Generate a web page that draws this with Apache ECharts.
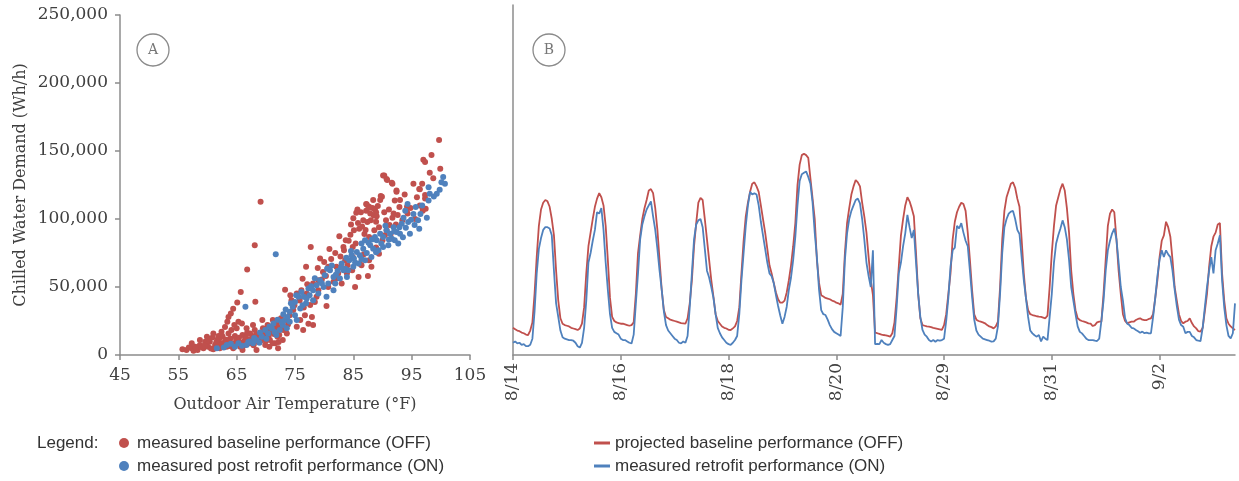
<!DOCTYPE html>
<html>
<head>
<meta charset="utf-8">
<title>Chilled water demand</title>
<script src="https://cdn.jsdelivr.net/npm/echarts@6/dist/echarts.min.js"></script>
<style>
  html, body { margin: 0; padding: 0; background: #ffffff; }
  #chart { width: 1239px; height: 481px; }
</style>
</head>
<body>
<div id="chart"></div>
<script>
// ---- Panel A: hourly demand vs outdoor air temperature [degF, Wh/h] ----
const baselineScatter = [
  [69.1,112700],[68.1,80700],[66.8,62800],[65.7,46400],[65.1,38600],[68.2,39100],[64.0,30500],[63.4,24400],[63.6,28000],[64.4,34000],
  [77.7,79400],[76.9,64800],[73.3,48000],[80.4,36000],[77.3,23000],[72.1,4900],
  [90.1,132000],[90.7,129500],[91.7,126000],[92.4,120000],[99.7,158000],[98.4,147000],[97.0,143500],[97.3,142000],[99.9,137000],
  [96.3,122000],[95.3,126000],[98.7,130000],[97.3,115000],[96.4,110000],[97.4,107500],[95.6,100000],[96.9,106000],
  [89.7,117000],[88.4,114000],[87.3,110700],[87.7,109000],[88.3,108000],[88.7,107000],[87.2,106000],[87.9,104000],[88.5,102600],
  [85.7,107000],[86.3,105000],[86.7,99000],[87.4,97800],[86.0,92900],[85.1,91700],[84.5,88500],[83.7,84300],[82.6,87300],
  [83.3,79400],[84.9,79400],[85.4,81900],[86.9,89000],[87.7,86800],[88.6,91700],[89.4,94000],[90.6,99000],[91.7,101000],
  [92.3,96000],[91.4,89000],[90.0,84300],[89.4,74500],[88.1,64800],[86.1,67200],[84.9,72000],[83.6,69700],[82.4,60000],
  [81.6,53800],[80.7,50000],[79.6,55500],[79.0,47700],[78.4,39000],[79.3,71000],[80.0,68400],[80.7,64800],[82.1,64800],
  [83.0,52500],[83.9,60000],[84.8,62300],[85.9,57400],[85.3,50000],[86.4,66000],[87.7,69700],[90.7,91700],[92.9,108800],
  [92.1,113600],[93.4,99000],[94.3,104000],[90.3,132000],[90.8,128700],[91.6,126700],[89.9,116400],[92.4,121000],[94.2,109000],
  [94.1,106000],[85.5,104600],[87.2,111000],[87.6,108000],[88.9,105000],[89.6,114000],[96.4,121800],[97.3,117600],[96.9,107800],
  [79.8,61000],[80.3,58000],[81.2,70500],[81.9,75000],[82.8,72500],[83.4,77000],[84.2,84000],[84.6,96000],[85.0,100500],
  [85.8,97000],[86.5,94500],[87.1,92000],[88.0,99000],[89.0,102000],[89.2,109500],[88.9,98000],[90.3,105000],[91.1,107000],
  [91.9,104000],[93.0,114000],[93.8,118000],[94.8,108000],[95.9,116000],[96.8,126000],[98.1,134000],[76.3,56000],[77.1,52000],
  [78.9,64000],[80.9,78000],[82.0,56000],[84.0,66000],[86.8,74000],[87.5,58000],[88.9,79000],[90.4,88000],[91.2,95500],[92.6,103000],
  [74.4,40300],[75.3,45200],[76.1,47700],[74.7,33000],[74.1,29300],[73.5,25700],[75.9,25700],[76.7,29300],[75.3,20800],
  [77.6,36700],[73.0,18300],[72.3,14700],[72.9,11000],[71.6,8600],[73.6,15900],[76.4,18300],[78.1,22000],[78.7,42800],
  [79.0,55000],[78.1,52500],[77.0,45200],[72.5,20000],[73.8,22500],[74.9,36500],[75.8,40000],[76.5,35000],[77.9,28000],
  [71.8,18000],[70.0,10500],[72.6,27000],[74.2,44000],
  [55.7,4200],[56.4,3700],[57.3,4900],[57.9,6100],[58.3,3700],[58.7,7300],[59.3,4900],[59.7,8600],[60.1,6100],[60.4,9800],
  [60.9,13000],[61.3,7300],[61.7,11000],[62.1,8600],[62.6,13400],[63.0,9800],[63.3,6100],[63.9,12200],[64.3,8600],[64.7,13900],
  [65.1,9800],[65.6,6100],[66.0,14700],[66.4,11000],[66.8,16400],[67.3,8600],[67.7,13400],[68.1,18300],[68.5,9800],[69.0,15900],
  [69.5,19600],[69.9,13400],[70.3,22000],[70.7,17100],[71.2,25700],[71.6,20800],[72.0,13400],[58.7,11000],[61.0,15900],[62.4,17100],
  [64.1,18300],[65.0,19600],[65.9,23200],[63.6,15900],[61.9,13900],[59.9,13400],[57.3,8600],[59.6,9800],[66.7,19600],[67.8,22000],
  [67.3,15900],[69.4,25700],[70.6,6100],[71.2,8600],[66.0,3700],[64.4,4900],[62.1,4900],[61.0,4200],[68.4,3700],[69.9,7300],
  [70.7,11000],[63.9,8600],[64.7,7300],[62.6,8600],
  [56.8,5500],[57.6,3200],[58.0,5200],[58.9,5800],[59.5,7000],[60.0,10500],[60.6,4800],[61.5,9300],[62.0,12000],[62.9,7500],
  [63.2,11200],[63.7,10000],[64.0,6500],[64.9,11800],[65.4,12600],[65.8,9000],[66.2,7000],[66.6,12800],[67.0,10800],[67.5,11800],
  [67.9,7200],[68.3,14800],[68.8,12100],[69.2,10600],[69.7,16800],[70.1,19000],[70.5,14200],[70.9,21000],[71.4,15500],[71.9,22500],
  [72.2,9500],[63.0,20500],[64.6,22000],[65.3,24500],[62.4,14900],[60.2,12000]
];

const retrofitScatter = [
  [66.5,35400],[71.7,74000],[61.6,4900],[63.3,7300],[64.7,6100],[65.3,8600],[66.7,7300],[67.8,8600],[68.4,11000],[69.3,13400],
  [69.9,18300],[70.4,15900],[71.0,19600],[71.3,23200],[71.8,14700],[72.4,18300],[72.9,22000],[73.3,25700],[73.7,28000],[74.1,31800],
  [74.6,35400],[75.0,39000],[75.6,42800],[76.1,46400],[76.5,42800],[75.9,34200],[75.0,29300],[74.1,24400],[75.3,25700],[73.6,19600],
  [77.3,48900],[78.1,47700],[78.7,51300],[79.3,55000],[80.1,58700],[81.0,62300],[81.6,57400],[82.3,61800],[83.0,67200],[83.6,63500],
  [84.3,69700],[84.7,73300],[85.1,70900],[85.6,75800],[86.1,73300],[86.7,78200],[87.3,75000],[87.9,80700],[88.4,78200],[89.0,84300],
  [89.6,89200],[90.1,86800],[90.7,91700],[91.3,89200],[91.9,94000],[92.1,84300],[92.7,81900],[93.0,89200],[93.3,96500],[93.6,101000],
  [93.9,106000],[94.3,111000],[94.4,97800],[94.7,89200],[95.3,103700],[95.7,108800],[96.1,99000],[96.5,103700],[96.3,92900],[97.6,101000],
  [97.9,113600],[98.1,118500],[97.9,123400],[99.3,118500],[100.1,127000],[100.4,130800],[100.7,125900],[78.1,40300],[79.0,45200],[79.9,50000],
  [80.7,52500],[81.9,52500],[82.7,56200],[84.1,62300],[85.0,64800],[85.9,67200],[87.0,69700],[88.1,72000],[89.3,77000],[90.1,79400],
  [91.0,80700],[91.6,85500],[92.4,90400],[81.6,47700],[80.4,42800],[83.3,62300],[83.9,57400],[86.4,81900],[87.0,84300],[88.7,86800],
  [67.2,10000],[68.9,9000],[70.1,12000],[72.0,26000],[73.0,30000],[76.9,38000],[77.5,44000],
  [62.8,5600],[64.0,8200],[65.9,6800],[67.0,9500],[68.0,12500],[69.0,16500],[70.6,20800],[71.5,17000],[72.7,24500],[73.4,33500],
  [74.3,38000],[75.2,44000],[76.3,36500],[77.0,41500],[77.8,50500],[78.4,56500],[79.6,52800],[80.5,63500],[81.3,65800],[82.0,59000],
  [82.9,64500],[83.8,71500],[84.6,76500],[85.3,68000],[86.4,70500],[87.6,82500],[88.2,85000],[88.9,75500],[89.8,82000],[90.5,95000],
  [91.1,85000],[92.0,91000],[92.9,94000],[93.5,86500],[94.0,93500],[94.9,99500],[95.5,95500],[96.8,110000],[98.8,116500],[99.8,121500]
];

// ---- Panel B: hourly profiles, two metered weeks ----
const dayLabels = ['8/14','8/15','8/16','8/17','8/18','8/19','8/20',
                   '8/28','8/29','8/30','8/31','9/1','9/2','9/3'];

// projected baseline (OFF), Wh/h, one row per day, hours 0..23
const projectedBaseline = [
  20000,19000,18000,17500,16500,16000,15000,14700,18000,24000,45000,72000,95000,107000,112000,114000,113000,109000,100000,88000,62000,40000,27000,23000,
  22000,21500,21000,20000,19500,19000,18400,19500,23000,35000,60000,80000,90000,100000,109000,115000,119000,116000,110000,95000,70000,42000,28000,25000,
  24000,23500,23000,23000,22500,22000,21500,22000,24000,45000,75000,88000,100000,108000,114000,121000,122000,119000,108000,92000,70000,48000,33000,28000,
  27000,26000,25500,25000,24500,24000,23500,23300,23000,27000,38000,55000,80000,97000,112000,115500,114000,100000,85000,70000,55000,43000,30000,25000,
  23000,21000,20000,19500,18500,18400,19600,21000,25000,35000,60000,84000,102000,112000,120000,126000,127000,124000,120000,110000,100000,90000,78000,66000,
  60000,53000,46000,41000,38500,38500,40000,46000,55000,66000,80000,97000,125000,140000,147000,148000,147000,145000,130000,115000,100000,70000,53000,44000,
  43000,42000,41500,41000,40000,39500,38500,38000,37000,45000,75000,97000,108000,118000,124000,128700,127000,124000,112000,102000,90000,72000,55000,44000,
  16400,16000,15500,15000,14700,14500,14000,13500,16000,24000,42000,65000,88000,100000,110000,116000,113000,108000,102000,75000,45000,27000,22000,21500,
  21000,20800,20500,20000,19600,19200,18800,18400,22000,30000,45000,60000,85000,98000,105000,109000,112000,111000,106000,90000,70000,48000,30000,26000,
  25000,24500,24000,23300,22000,21000,20500,19600,21000,24500,50000,85000,106000,116000,121000,126000,127000,123000,115000,109000,85000,60000,42000,33000,
  30000,29400,29000,28500,28200,28000,27500,27000,29000,50000,75000,95000,110000,116000,122000,126000,121000,108000,90000,62000,45000,33000,27000,25700,
  25000,24500,24000,23300,23000,21300,22000,24000,24500,24500,45000,70000,95000,104000,107000,105000,85000,62000,45000,30000,25000,23300,24000,24500,
  24500,25700,26500,27000,26000,25700,25700,26500,27000,30000,42000,55000,72000,84000,88000,98000,94000,87000,70000,50000,40000,30000,25000,23300,
  24500,25000,27000,23500,21000,19600,17500,17200,20000,32000,45000,65000,80000,87000,90000,96000,97000,60000,40000,27000,23000,21000,19600,18400
];

// measured retrofit (ON), Wh/h, one row per day, hours 0..23
const measuredRetrofit = [
  9000,10000,8500,9000,7500,8000,6500,6500,7500,12000,32000,60000,78000,86000,92000,94000,94000,93000,88000,62000,38000,28000,18000,13000,
  12000,11500,11000,11000,10500,9000,6500,5500,9000,20000,40000,68000,75000,84000,92000,105000,104000,108000,92000,68000,48000,30000,20000,17000,
  16000,15000,12000,11000,11000,10000,9000,8500,15000,38000,60000,85000,96000,102000,107000,110000,113000,102000,92000,78000,62000,48000,32000,22000,
  18000,16000,14000,12000,11000,9000,8500,10000,9000,14000,35000,60000,85000,96000,99000,100000,94000,78000,62000,57000,50000,42000,30000,20000,
  16000,13000,11000,9000,8000,7500,9000,11000,14000,30000,55000,75000,95000,110000,120000,118000,119000,118000,110000,98000,88000,78000,68000,60000,
  58000,52700,44000,36000,29000,23000,28000,35500,48000,57000,70000,87000,110000,128000,133000,134000,135000,131000,126000,112000,90000,72000,48000,33000,
  30000,29400,26000,22000,19000,17000,16000,15000,14000,35000,70000,89500,100000,106000,110000,114000,115000,111500,100000,85000,68000,58000,50000,77000,
  8000,8100,8000,11000,9000,8000,7400,8000,11000,14000,35000,60000,68000,80000,89500,103000,94000,86000,92000,68000,45000,28000,18400,15000,
  13500,11000,10000,11000,9800,11000,10500,11000,12000,25000,42000,65000,77000,79000,95000,93000,97000,90000,84000,80000,62000,43000,26000,18000,
  15000,13500,12000,11500,11000,10500,9800,10000,12000,21000,45000,75000,94000,100000,104000,105500,106000,100000,92000,89000,72000,55000,42000,28000,
  18000,15900,14500,13500,14700,10000,13500,12000,11000,28000,45000,68000,82000,88000,93000,99000,94000,85000,70000,50000,40000,30000,21000,17000,
  15900,14000,12000,11000,11000,11000,10500,10300,12000,25000,40000,62000,77000,84000,89500,93000,85000,68000,50000,40000,27000,23000,22000,20000,
  19600,18400,17500,16400,17200,16000,16400,15900,16000,28000,42000,58000,70000,77000,72000,77000,74000,72000,62000,48000,36000,26000,22000,20800,
  16000,17000,17000,14000,13000,11000,10500,10300,20000,35000,50000,62000,72000,60000,77000,82000,88000,55000,35000,22000,14000,12200,16000,38000
];

// hourly category keys "m/d h"
const hourKeys = [];
dayLabels.forEach(function (d) {
  for (let h = 0; h < 24; h++) hourKeys.push(d + ' ' + h);
});

const RED = '#C0504D';
const BLUE = '#4F81BD';
const AXIS = '#8C8C8C';
const TEXT = '#404040';
const SERIF = "'DejaVu Serif', 'Liberation Serif', serif";
const SANS = "'Liberation Sans', Arial, sans-serif";

const chart = echarts.init(document.getElementById('chart'), null, { renderer: 'canvas' });

const legendRows = [
  { kind: 'dot',  color: RED,  x: 124, y: 443, label: 'measured baseline performance (OFF)' },
  { kind: 'dot',  color: BLUE, x: 124, y: 466, label: 'measured post retrofit performance (ON)' },
  { kind: 'line', color: RED,  x: 602, y: 443, label: 'projected baseline performance (OFF)' },
  { kind: 'line', color: BLUE, x: 602, y: 466, label: 'measured retrofit performance (ON)' }
];

const graphics = [
  { type: 'text', x: 37, y: 443, style: { text: 'Legend:', font: '17px ' + SANS, fill: '#333', verticalAlign: 'middle' } }
];
legendRows.forEach(function (r) {
  if (r.kind === 'dot') {
    graphics.push({ type: 'circle', shape: { cx: r.x, cy: r.y, r: 5 }, style: { fill: r.color } });
  } else {
    graphics.push({ type: 'line', shape: { x1: r.x - 8, y1: r.y, x2: r.x + 8, y2: r.y }, style: { stroke: r.color, lineWidth: 3 } });
  }
  graphics.push({ type: 'text', x: r.x + 13, y: r.y, style: { text: r.label, font: '17px ' + SANS, fill: '#333', verticalAlign: 'middle' } });
});
// panel markers
[['A', 153, 50], ['B', 549, 50]].forEach(function (p) {
  graphics.push({ type: 'circle', shape: { cx: p[1], cy: p[2], r: 16 }, style: { fill: 'none', stroke: '#8a8a8a', lineWidth: 1.3 } });
  graphics.push({ type: 'text', x: p[1], y: p[2], style: { text: p[0], font: '14px ' + SERIF, fill: '#777', align: 'center', verticalAlign: 'middle' } });
});

const option = {
  animation: false,
  backgroundColor: '#ffffff',
  grid: [
    { left: 120, top: 15, width: 350, height: 340 },
    { left: 513, top: 5, width: 722, height: 350 }
  ],
  xAxis: [
    {
      gridIndex: 0, type: 'value', min: 45, max: 105, interval: 10,
      name: 'Outdoor Air Temperature (°F)', nameLocation: 'middle', nameGap: 42,
      nameTextStyle: { fontFamily: SERIF, fontSize: 16, color: TEXT },
      axisLine: { lineStyle: { color: AXIS, width: 1.5 } },
      axisTick: { show: true, length: 5, lineStyle: { color: AXIS, width: 1.5 } },
      axisLabel: { fontFamily: SERIF, fontSize: 17, color: TEXT, margin: 12 },
      splitLine: { show: false }
    },
    {
      gridIndex: 1, type: 'category', data: hourKeys, boundaryGap: false,
      axisLine: { lineStyle: { color: AXIS, width: 1.5 } },
      axisTick: { show: true, interval: 49, length: 5, lineStyle: { color: AXIS, width: 1.5 } },
      axisLabel: {
        interval: 49, rotate: 90, margin: 8, fontFamily: SERIF, fontSize: 17, color: TEXT,
        formatter: function (v) { return v.split(' ')[0]; }
      },
      splitLine: { show: false }
    }
  ],
  yAxis: [
    {
      gridIndex: 0, type: 'value', min: 0, max: 250000, interval: 50000,
      name: 'Chilled Water Demand (Wh/h)', nameLocation: 'middle', nameGap: 91,
      nameTextStyle: { fontFamily: SERIF, fontSize: 16, color: TEXT },
      axisLine: { show: true, lineStyle: { color: AXIS, width: 1.5 } },
      axisTick: { show: true, length: 5, lineStyle: { color: AXIS, width: 1.5 } },
      axisLabel: {
        fontFamily: SERIF, fontSize: 17, color: TEXT, margin: 12,
        formatter: function (v) { return v.toLocaleString('en-US'); }
      },
      splitLine: { show: false }
    },
    {
      gridIndex: 1, type: 'value', min: 0, max: 257400,
      axisLine: { show: true, lineStyle: { color: AXIS, width: 1.5 } },
      axisTick: { show: false },
      axisLabel: { show: false },
      splitLine: { show: false }
    }
  ],
  series: [
    {
      name: 'measured baseline performance (OFF)', type: 'scatter',
      xAxisIndex: 0, yAxisIndex: 0, data: baselineScatter,
      symbolSize: 6, itemStyle: { color: RED, opacity: 1 }
    },
    {
      name: 'measured post retrofit performance (ON)', type: 'scatter',
      xAxisIndex: 0, yAxisIndex: 0, data: retrofitScatter,
      symbolSize: 6, itemStyle: { color: BLUE, opacity: 1 }
    },
    {
      name: 'projected baseline performance (OFF)', type: 'line',
      xAxisIndex: 1, yAxisIndex: 1, data: projectedBaseline,
      showSymbol: false, lineStyle: { color: RED, width: 1.8 }, itemStyle: { color: RED }
    },
    {
      name: 'measured retrofit performance (ON)', type: 'line',
      xAxisIndex: 1, yAxisIndex: 1, data: measuredRetrofit,
      showSymbol: false, lineStyle: { color: BLUE, width: 1.8 }, itemStyle: { color: BLUE }
    }
  ],
  graphic: graphics
};

chart.setOption(option);
</script>
</body>
</html>
